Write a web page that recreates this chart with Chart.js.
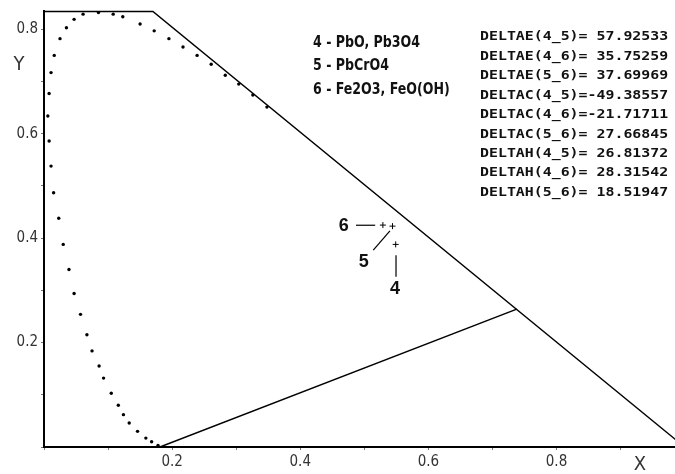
<!DOCTYPE html>
<html>
<head>
<meta charset="utf-8">
<script src="https://cdn.jsdelivr.net/npm/chart.js@4.4.0/dist/chart.umd.min.js"></script>
<style>
  body{margin:0;background:#fff;}
  #wrap{width:675px;height:474px;position:relative;}
</style>
</head>
<body>
<div id="wrap"><canvas id="chart"></canvas></div>
<script>
// spectral locus dots (x, y chromaticity)
var locusX = [0.178,0.168,0.159,0.146,0.133,0.124,0.116,0.105,0.093,0.086,0.075,0.067,0.057,0.047,0.039,0.030,0.023,0.015,0.011,0.008,0.006,0.008,0.011,0.016,0.025,0.035,0.047,0.061,0.085,0.108,0.123,0.150,0.172,0.195,0.217,0.239,0.261,0.283,0.304,0.326,0.348];
var locusY = [0.003,0.010,0.017,0.030,0.046,0.062,0.080,0.103,0.132,0.155,0.184,0.215,0.254,0.294,0.340,0.388,0.438,0.487,0.538,0.586,0.634,0.677,0.717,0.750,0.782,0.803,0.819,0.829,0.832,0.829,0.824,0.810,0.797,0.782,0.766,0.750,0.733,0.712,0.695,0.674,0.651];

// boundary lines
var gamutX = [0, 0.17, 1.0];
var gamutY = [0.834, 0.834, 0.0];
var purpleX = [0.181, 0.738];
var purpleY = [0.0, 0.264];

// pigments
var sampleNames = ["4", "5", "6"];
var sampleX = [0.549, 0.544, 0.529];
var sampleY = [0.388, 0.423, 0.425];

// leader lines for the labels 4,5,6
var leaderX = [[0.5495,0.5495],[0.514,0.540],[0.487,0.517]];
var leaderY = [[0.367,0.326],[0.377,0.414],[0.4247,0.4247]];
var labelX = [0.548, 0.499, 0.468];
var labelY = [0.302, 0.354, 0.423];

// tick positions (every tenth, labels on the even ones)
var xTicks = [0,0.1,0.2,0.3,0.4,0.5,0.6,0.7,0.8,0.9];
var yTicks = [0,0.1,0.2,0.3,0.4,0.5,0.6,0.7,0.8];

var legendLines = ["4 - PbO, Pb3O4", "5 - PbCrO4", "6 - Fe2O3, FeO(OH)"];
var deltaLines = [
  "DELTAE(4_5)= 57.92533",
  "DELTAE(4_6)= 35.75259",
  "DELTAE(5_6)= 37.69969",
  "DELTAC(4_5)=-49.38557",
  "DELTAC(4_6)=-21.71711",
  "DELTAC(5_6)= 27.66845",
  "DELTAH(4_5)= 26.81372",
  "DELTAH(4_6)= 28.31542",
  "DELTAH(5_6)= 18.51947"
];

function pts(xs, ys){
  var out = [];
  for(var i=0;i<xs.length;i++) out.push({x:xs[i], y:ys[i]});
  return out;
}

var narrow = "'DejaVu Sans Condensed', 'Liberation Sans Narrow', sans-serif";

var datasets = [
  {data: pts(locusX, locusY), showLine:false, pointRadius:1.7, pointBackgroundColor:'#000', pointBorderWidth:0},
  {data: pts(gamutX, gamutY), showLine:true, borderColor:'#000', borderWidth:1.5, pointRadius:0, clip:false},
  {data: pts(purpleX, purpleY), showLine:true, borderColor:'#000', borderWidth:1.5, pointRadius:0}
];
for(var i=0;i<leaderX.length;i++){
  datasets.push({data: pts(leaderX[i], leaderY[i]), showLine:true, borderColor:'#000', borderWidth:1.2, pointRadius:0});
}
datasets.push({data: pts(sampleX, sampleY), showLine:false, pointStyle:'cross', pointRadius:3, borderColor:'#000', pointBorderWidth:1});

var textPlugin = {
  id:'texts',
  afterDraw:function(c){
    var ctx = c.ctx, xs = c.scales.x, ys = c.scales.y;
    ctx.save();
    ctx.textBaseline = 'middle';
    // axis titles
    ctx.font = "20px " + narrow;
    ctx.textAlign = 'center';
    ctx.fillStyle = '#333';
    ctx.fillText("Y", 19, 65);
    ctx.fillText("X", 640, 465);
    // legend of pigments (squeezed a bit, the original font is narrow)
    ctx.fillStyle = '#111';
    ctx.textAlign = 'left';
    ctx.font = "bold 16px " + narrow;
    for(var i=0;i<legendLines.length;i++){
      ctx.save();
      ctx.translate(313, 43 + i*23.3);
      ctx.scale(0.875, 1);
      ctx.fillText(legendLines[i], 0, 0);
      ctx.restore();
    }
    // colour differences, wide bitmap-like mono font
    ctx.font = "bold 13px 'DejaVu Sans Mono', monospace";
    for(var j=0;j<deltaLines.length;j++){
      ctx.save();
      ctx.translate(480, 37 + j*19.44);
      ctx.scale(1.145, 1);
      ctx.fillText(deltaLines[j], 0, 0);
      ctx.restore();
    }
    // point labels
    ctx.font = "bold 18px 'Liberation Sans', Arial, sans-serif";
    ctx.textAlign = 'center';
    for(var k=0;k<sampleNames.length;k++){
      ctx.fillText(sampleNames[k], xs.getPixelForValue(labelX[k]), ys.getPixelForValue(labelY[k]));
    }
    ctx.restore();
  }
};

// only 0.2, 0.4, 0.6, 0.8 get a label, the odd tenths stay as bare ticks
function evenTenth(v){
  var n = Math.round(v*10);
  if(n === 0 || n % 2 !== 0) return '';
  return (n/10).toFixed(1);
}

chart = new Chart(document.getElementById('chart'), {
  type:'scatter',
  data:{datasets:datasets},
  options:{
    responsive:true,
    maintainAspectRatio:false,
    animation:false,
    layout:{autoPadding:false, padding:{top:11, right:0, left:0, bottom:0}},
    plugins:{legend:{display:false}, tooltip:{enabled:false}},
    scales:{
      x:{
        type:'linear', min:0, max:0.985,
        afterBuildTicks:function(s){ s.ticks = xTicks.map(function(v){ return {value:v}; }); },
        afterFit:function(s){ s.height = 27; s.paddingLeft = 0; s.paddingRight = 0; },
        ticks:{autoSkip:false, maxRotation:0, padding:3, color:'#333',
               font:{family:narrow, size:15}, callback:evenTenth},
        grid:{drawOnChartArea:false, tickLength:3, color:'#777'},
        border:{color:'#000', width:2}
      },
      y:{
        type:'linear', min:0, max:0.835,
        afterBuildTicks:function(s){ s.ticks = yTicks.map(function(v){ return {value:v}; }); },
        afterFit:function(s){ s.width = 44; s.paddingTop = 0; s.paddingBottom = 0; },
        ticks:{autoSkip:false, padding:3, color:'#333',
               font:{family:narrow, size:15}, callback:evenTenth},
        grid:{drawOnChartArea:false, tickLength:3, color:'#777'},
        border:{color:'#000', width:2}
      }
    }
  },
  plugins:[textPlugin]
});
</script>
</body>
</html>
